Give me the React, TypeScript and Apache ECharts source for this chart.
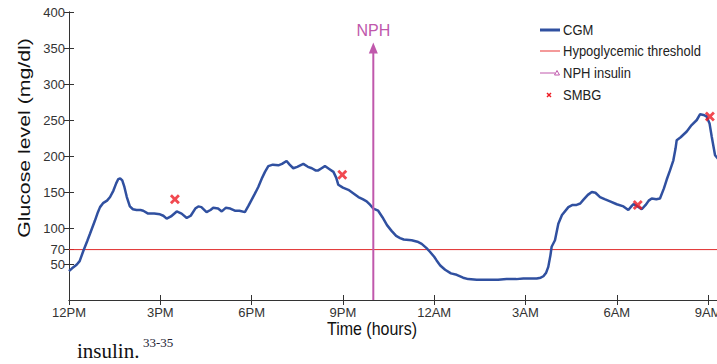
import React, { useEffect, useRef } from 'react';
import * as echarts from 'echarts';

const xTickLabels = ['12PM', '3PM', '6PM', '9PM', '12AM', '3AM', '6AM', '9AM', '12PM'];
const yTickValues = [50, 70, 100, 150, 200, 250, 300, 350, 400];

// hours after 12PM
const cgmHours = [
  0.0, 0.1, 0.25, 0.35, 0.47, 0.6, 0.69, 0.85, 0.95, 1.02, 1.13, 1.25, 1.35, 1.46, 1.55, 1.62, 1.68, 1.75, 1.82, 1.9,
  2.0, 2.1, 2.22, 2.35, 2.44, 2.6, 2.8, 2.99, 3.1, 3.21, 3.35, 3.54, 3.7, 3.87, 4.0, 4.15, 4.25, 4.35, 4.52, 4.65,
  4.74, 4.9, 5.02, 5.15, 5.3, 5.45, 5.6, 5.78, 5.9, 6.0, 6.1, 6.22, 6.35, 6.44, 6.55, 6.7, 6.88, 7.0, 7.15, 7.25,
  7.37, 7.5, 7.7, 7.85, 7.98, 8.1, 8.19, 8.3, 8.41, 8.55, 8.69, 8.78, 8.85, 9.0, 9.18, 9.35, 9.51, 9.65, 9.78, 9.9,
  10.0, 10.16, 10.3, 10.45, 10.6, 10.75, 10.88, 11.0, 11.26, 11.45, 11.59, 11.75, 11.86, 12.0, 12.08, 12.2, 12.36, 12.55, 12.74, 12.95,
  13.12, 13.4, 13.83, 14.1, 14.38, 14.7, 14.93, 15.2, 15.37, 15.5, 15.59, 15.68, 15.75, 15.82, 15.86, 15.97, 16.08, 16.2, 16.41, 16.55,
  16.68, 16.8, 16.9, 17.05, 17.18, 17.3, 17.45, 17.6, 17.78, 18.0, 18.22, 18.38, 18.5, 18.55, 18.65, 18.82, 18.95, 19.05, 19.15, 19.3,
  19.42, 19.55, 19.64, 19.75, 19.86, 19.93, 19.97, 20.1, 20.3, 20.46, 20.63, 20.74, 20.85, 20.95, 21.05, 21.12, 21.23, 21.35,
];
const cgmGlucose = [
  40, 44, 49, 54, 68, 82, 92, 110, 122, 129, 135, 138, 143, 152, 162, 168, 169, 166, 157, 143,
  130, 126, 125, 125, 124, 120, 120, 119, 117, 113, 116, 123, 120, 114, 117, 127, 130, 129, 122, 125,
  128, 127, 123, 128, 127, 124, 124, 122, 131, 139, 147, 157, 170, 178, 186, 188, 187, 189, 193, 188,
  183, 185, 189, 185, 183, 180, 180, 183, 186, 182, 178, 170, 160, 156, 153, 148, 143, 140, 137, 132,
  127, 124, 115, 104, 96, 89, 86, 84, 83, 81, 78, 72, 67, 60, 55, 48, 42, 37, 35, 31,
  29, 28, 28, 28, 29, 29, 30, 30, 30, 31, 33, 38, 46, 62, 74, 83, 106, 118, 129, 132,
  132, 134, 139, 146, 150, 149, 143, 140, 137, 133, 130, 125, 131, 133, 131, 126, 132, 138, 141, 140,
  141, 155, 167, 180, 194, 210, 222, 226, 234, 243, 250, 258, 257, 255, 245, 227, 201, 195,
];

const smbgHours = [3.48, 8.98, 18.69, 21.06];
const smbgGlucose = [140, 174, 132, 255];

const nphHour = 10;
const nphArrowTop = 350;
const hypoThreshold = 70;
const xMax = 21.35;

const FONT = 'Liberation Sans, Arial, sans-serif';
const CGM_COLOR = '#3050a0';
const HYPO_COLOR = '#e02a2a';
const NPH_COLOR = '#c058ac';
const SMBG_COLOR = '#ee1c24';
const X_PATH = 'path://M2,0L5,3L8,0L10,2L7,5L10,8L8,10L5,7L2,10L0,8L3,5L0,2Z';

export default function App() {
  const ref = useRef<HTMLDivElement>(null);

  useEffect(() => {
    if (!ref.current) return;
    const chart = echarts.init(ref.current, undefined, { renderer: 'svg' });

    const axisCommonX = {
      type: 'value' as const,
      min: 0,
      max: xMax,
      interval: 3,
      splitLine: { show: false },
    };
    const axisCommonY = {
      type: 'value' as const,
      min: 0,
      max: 400,
      splitLine: { show: false },
    };

    const legendRows = [30, 51, 73, 95];
    const legendNames = ['CGM', 'Hypoglycemic threshold', 'NPH insulin', 'SMBG'];

    chart.setOption({
      animation: false,
      backgroundColor: '#ffffff',
      grid: { left: 69, top: 12, right: 6.3, bottom: 64 },
      xAxis: [
        {
          ...axisCommonX,
          position: 'bottom',
          axisLine: { lineStyle: { color: '#555', width: 1 } },
          axisTick: { inside: true, length: 5, lineStyle: { color: '#333' } },
          axisLabel: {
            formatter: (v: number) => (Math.abs(v % 3) < 1e-6 ? xTickLabels[Math.round(v / 3)] : ''),
            color: '#333',
            fontSize: 13,
            margin: 6,
            fontFamily: FONT,
          },
        },
        {
          ...axisCommonX,
          position: 'top',
          axisLine: { lineStyle: { color: '#333', width: 1 } },
          axisTick: { inside: true, length: 5, lineStyle: { color: '#333' } },
          axisLabel: { show: false },
        },
      ],
      yAxis: [
        {
          ...axisCommonY,
          position: 'left',
          axisLine: { lineStyle: { color: '#333', width: 1 } },
          axisTick: { inside: true, length: 5, customValues: yTickValues, lineStyle: { color: '#333' } },
          axisLabel: { customValues: yTickValues, color: '#333', fontSize: 13, margin: 4, fontFamily: FONT },
        },
        {
          ...axisCommonY,
          position: 'right',
          axisLine: { lineStyle: { color: '#333', width: 1 } },
          axisTick: { inside: true, length: 5, customValues: yTickValues, lineStyle: { color: '#333' } },
          axisLabel: { show: false },
        },
      ],
      series: [
        {
          name: 'Hypoglycemic threshold',
          type: 'line',
          data: [[0, hypoThreshold], [xMax, hypoThreshold]],
          symbol: 'none',
          lineStyle: { color: HYPO_COLOR, width: 1 },
          z: 2,
        },
        {
          name: 'CGM',
          type: 'line',
          data: cgmHours.map((h, i) => [h, cgmGlucose[i]]),
          symbol: 'none',
          lineStyle: { color: CGM_COLOR, width: 2.5 },
          z: 3,
        },
        {
          name: 'NPH insulin',
          type: 'line',
          symbol: 'triangle',
          symbolSize: [9, 11],
          itemStyle: { color: NPH_COLOR },
          lineStyle: { color: NPH_COLOR, width: 2 },
          data: [
            { value: [nphHour, 0], symbol: 'none' },
            {
              value: [nphHour, nphArrowTop],
              label: {
                show: true,
                position: 'top',
                distance: 4,
                formatter: 'NPH',
                color: NPH_COLOR,
                fontSize: 16,
                fontFamily: FONT,
              },
            },
          ],
          z: 4,
        },
        {
          name: 'SMBG',
          type: 'scatter',
          symbol: X_PATH,
          symbolSize: 10,
          itemStyle: { color: SMBG_COLOR },
          data: smbgHours.map((h, i) => [h, smbgGlucose[i]]),
          z: 5,
        },
      ],
      graphic: [
        {
          type: 'text',
          x: 24,
          y: 138,
          rotation: Math.PI / 2,
          scaleX: 1.33,
          style: {
            text: 'Glucose level (mg/dl)',
            fontSize: 16,
            fontFamily: FONT,
            fill: '#111',
            align: 'center',
            verticalAlign: 'middle',
            textAlign: 'center',
            textVerticalAlign: 'middle',
          },
        },
        {
          type: 'text',
          x: 372,
          y: 328,
          scaleY: 1.2,
          style: {
            text: 'Time (hours)',
            fontSize: 16,
            fontFamily: FONT,
            fill: '#111',
            align: 'center',
            verticalAlign: 'middle',
            textAlign: 'center',
            textVerticalAlign: 'middle',
          },
        },
        // legend
        { type: 'line', shape: { x1: 540, y1: legendRows[0], x2: 560, y2: legendRows[0] }, style: { stroke: CGM_COLOR, lineWidth: 3 } },
        { type: 'line', shape: { x1: 540, y1: legendRows[1], x2: 560, y2: legendRows[1] }, style: { stroke: '#f07878', lineWidth: 1.5 } },
        { type: 'line', shape: { x1: 540, y1: legendRows[2], x2: 555, y2: legendRows[2] }, style: { stroke: NPH_COLOR, lineWidth: 1 } },
        {
          type: 'polygon',
          shape: { points: [[554.5, legendRows[2] + 2], [557, legendRows[2] - 2.5], [559.5, legendRows[2] + 2]] },
          style: { fill: '#fff', stroke: NPH_COLOR, lineWidth: 1 },
        },
        { type: 'line', shape: { x1: 547, y1: legendRows[3] - 2, x2: 551, y2: legendRows[3] + 2 }, style: { stroke: SMBG_COLOR, lineWidth: 1.5 } },
        { type: 'line', shape: { x1: 547, y1: legendRows[3] + 2, x2: 551, y2: legendRows[3] - 2 }, style: { stroke: SMBG_COLOR, lineWidth: 1.5 } },
        ...legendNames.map((name, i) => ({
          type: 'text',
          x: 563,
          y: legendRows[i],
          scaleY: 1.1,
          style: {
            text: name,
            fontSize: 13,
            fontFamily: FONT,
            fill: '#222',
            align: 'left',
            verticalAlign: 'middle',
            textAlign: 'left',
            textVerticalAlign: 'middle',
          },
        })),
        // text below chart
        {
          type: 'text',
          x: 77,
          y: 340,
          style: {
            text: 'insulin.',
            fontSize: 21,
            fontFamily: 'Liberation Serif, Times New Roman, serif',
            fill: '#111',
            align: 'left',
            verticalAlign: 'top',
            textAlign: 'left',
            textVerticalAlign: 'top',
          },
        },
        {
          type: 'text',
          x: 143,
          y: 336,
          style: {
            text: '33-35',
            fontSize: 13,
            fontFamily: 'Liberation Serif, Times New Roman, serif',
            fill: '#223',
            align: 'left',
            verticalAlign: 'top',
            textAlign: 'left',
            textVerticalAlign: 'top',
          },
        },
      ],
    });

    return () => chart.dispose();
  }, []);

  return (
    <div style={{ position: 'absolute', left: 0, top: 0, width: 717, height: 364, overflow: 'hidden', background: '#fff' }}>
      <div ref={ref} style={{ width: 725, height: 364 }} />
    </div>
  );
}
